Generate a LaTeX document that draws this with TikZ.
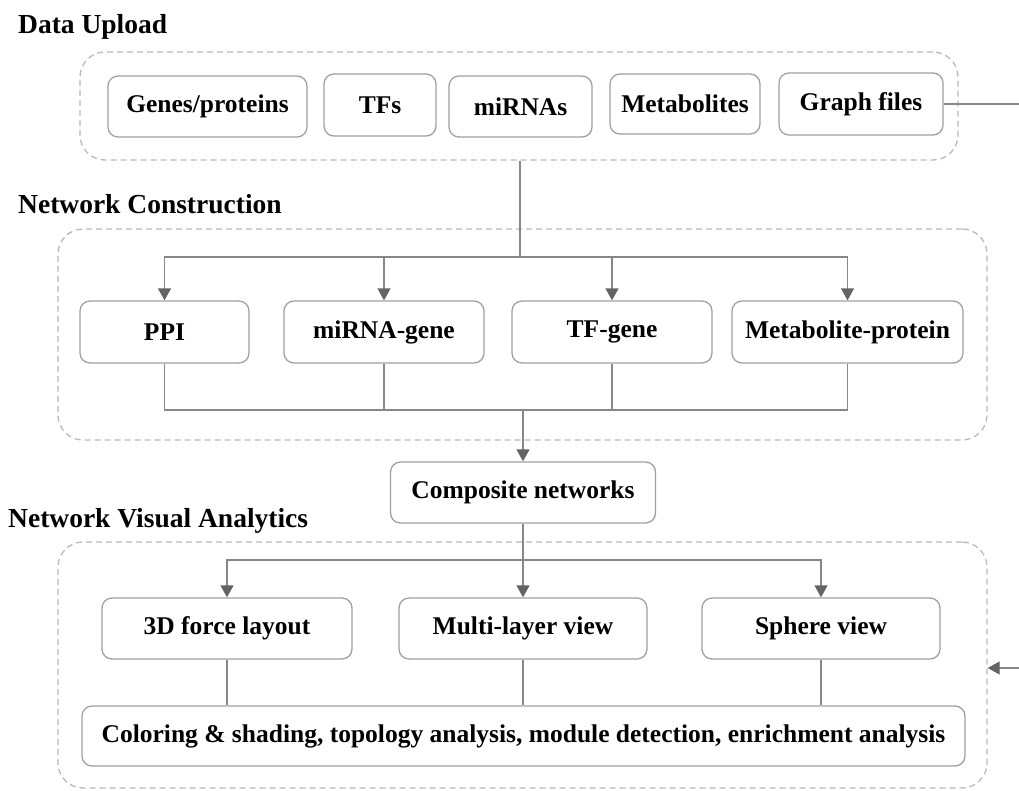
\documentclass[tikz,border=0pt]{standalone}
\usepackage{fontspec}
\setmainfont{Liberation Serif}
\usetikzlibrary{arrows.meta, positioning}
\definecolor{boxgray}{RGB}{160,160,160}
\definecolor{linegray}{RGB}{135,135,135}
\definecolor{tipgray}{RGB}{100,100,100}
\definecolor{dashgray}{RGB}{185,185,185}
\tikzstyle{flow}=[x=1pt, y=-1pt, >={Triangle[width=13pt,length=12pt,color=tipgray]}, font=\fontsize{25.5}{30}\selectfont\bfseries]
\tikzstyle{block}=[draw=boxgray, line width=1.3pt, rounded corners=10pt, fill=white, inner sep=0pt, minimum height=61pt]
\tikzstyle{group}=[draw=dashgray, line width=1.3pt, dash pattern=on 6pt off 4pt, rounded corners=25pt, inner sep=0pt]
\tikzstyle{title}=[anchor=base west, inner sep=0pt, font=\fontsize{27.5}{32}\selectfont\bfseries]
\tikzstyle{link}=[draw=linegray, line width=1.3pt]

\begin{document}
\begin{tikzpicture}[flow]
            \useasboundingbox (0,0) rectangle (1019,790);

            \node[group, minimum width=878pt, minimum height=108pt] (upload)    at (519,106)   {};
            \node[group, minimum width=929pt, minimum height=211pt] (construct) at (522.5,334.5) {};
            \node[group, minimum width=929pt, minimum height=246pt] (visual)    at (522.5,665) {};

            \node[title] (uploadtitle)    at (18,33)  {Data Upload};
            \node[title] (constructtitle) at (18,213) {Network Construction};
            \node[title] (visualtitle)    at (8,527)  {Network Visual Analytics};

            \node[block, minimum width=199pt]                   (genes)  at (207.5,106.5) {Genes/proteins};
            \node[block, minimum width=112pt, minimum height=62pt] (tfs) at (380,105)     {TFs};
            \node[block, minimum width=143pt]                   (mirnas) at (520.5,106.5) {miRNAs};
            \node[block, minimum width=150pt, minimum height=60pt] (metab) at (685,104)   {Metabolites};
            \node[block, minimum width=164pt, minimum height=62pt] (graph) at (861,104)   {Graph files};

            \node[block, minimum width=169pt, minimum height=62pt] (ppi)     at (164.5,332) {PPI};
            \node[block, minimum width=200pt, minimum height=62pt] (mirgene) at (384,332)   {miRNA-gene};
            \node[block, minimum width=200pt, minimum height=62pt] (tfgene)  at (612,332)   {TF-gene};
            \node[block, minimum width=231pt, minimum height=62pt] (metprot) at (847.5,332) {Metabolite-protein};

            \node[block, minimum width=265pt] (composite) at (523,492.5) {Composite networks};

            \node[block, minimum width=250pt] (force)  at (227,628.5) {3D force layout};
            \node[block, minimum width=248pt] (multi)  at (523,628.5) {Multi-layer view};
            \node[block, minimum width=238pt] (sphere) at (821,628.5) {Sphere view};

            \node[block, minimum width=883pt, minimum height=60pt] (analysis) at (523.5,736)
              {Coloring \& shading, topology analysis, module detection, enrichment analysis};

            \coordinate (outlet)  at (1019,104);
            \coordinate (inlet)   at (1019,668);
            \coordinate (topbus)  at (520,257);
            \coordinate (lowbus)  at (523,410);
            \coordinate (midbus)  at (523,560);

            \draw[link] (graph) -- (outlet);
            \draw[link] (upload.south -| topbus) -- (topbus);
            \draw[link,->] (topbus) -| (ppi);
            \draw[link,->] (topbus) -| (mirgene);
            \draw[link,->] (topbus) -| (tfgene);
            \draw[link,->] (topbus) -| (metprot);

            \draw[link] (ppi.south) |- (metprot.south |- lowbus) -- (metprot.south);
            \draw[link] (mirgene.south) -- (mirgene.south |- lowbus);
            \draw[link] (tfgene.south) -- (tfgene.south |- lowbus);
            \draw[link,->] (lowbus) -- (composite);

            \draw[link] (composite) -- (midbus);
            \draw[link,->] (midbus) -| (force);
            \draw[link,->] (midbus) -- (multi);
            \draw[link,->] (midbus) -| (sphere);

            \draw[link] (force.south) -- (force.south |- analysis.north);
            \draw[link] (multi.south) -- (multi.south |- analysis.north);
            \draw[link] (sphere.south) -- (sphere.south |- analysis.north);

            \draw[link,->] (inlet) -- (inlet -| visual.east);
          \end{tikzpicture}
\end{document}
